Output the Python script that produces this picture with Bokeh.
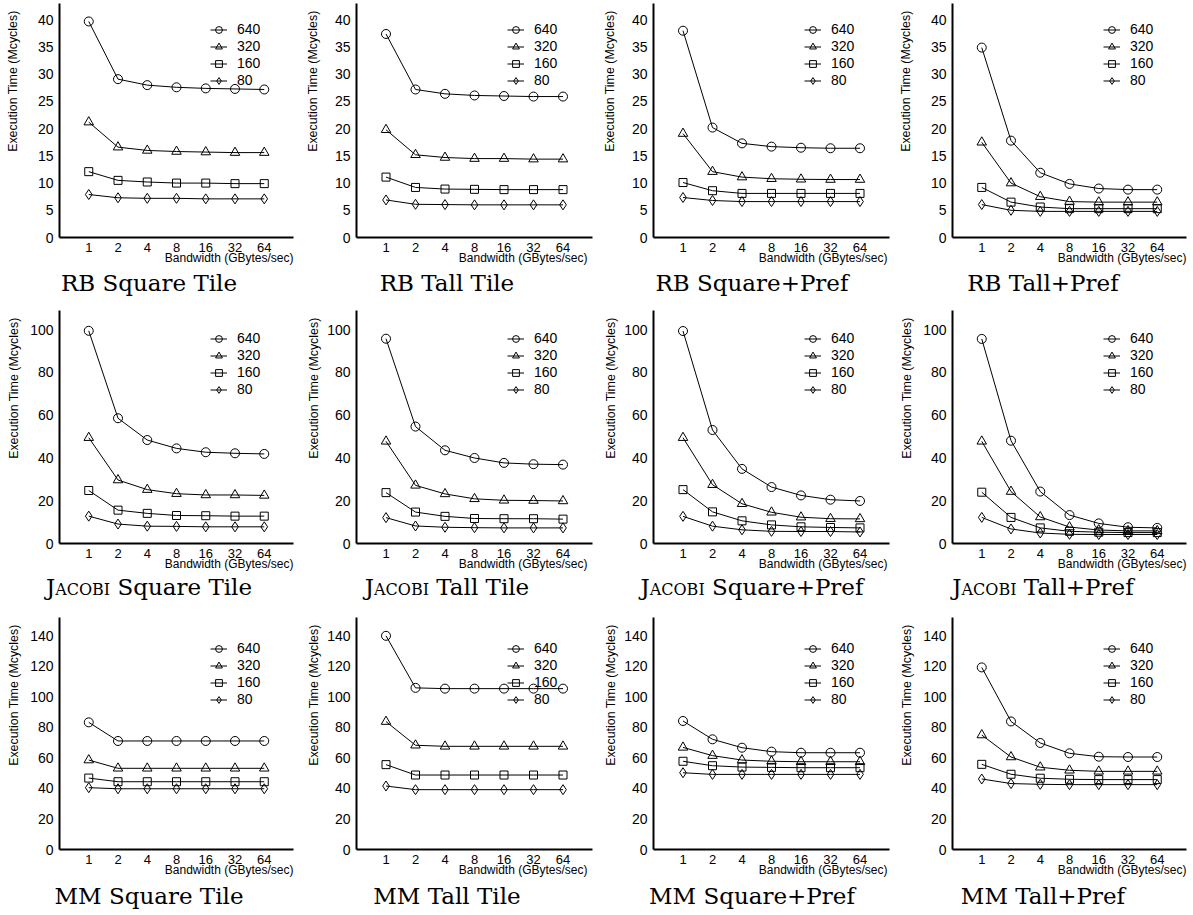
from bokeh.plotting import figure
from bokeh.models import FactorRange, Range1d, FixedTicker, Legend, LegendItem, Div, Title
from bokeh.layouts import column, row
from bokeh.embed import file_html
from bokeh.resources import INLINE

# ---------------- data ----------------
BANDWIDTH = ["1", "2", "4", "8", "16", "32", "64"]
TILE_SIZES = ["640", "320", "160", "80"]

RB_TICKS = [0, 5, 10, 15, 20, 25, 30, 35, 40]
JACOBI_TICKS = [0, 20, 40, 60, 80, 100]
MM_TICKS = [0, 20, 40, 60, 80, 100, 120, 140]

RB_SQUARE_TILE = {
    "640": [39.7, 29.1, 28.0, 27.6, 27.4, 27.3, 27.2],
    "320": [21.2, 16.6, 16.0, 15.8, 15.7, 15.6, 15.6],
    "160": [12.1, 10.5, 10.2, 10.0, 10.0, 9.9, 9.9],
    "80": [7.9, 7.3, 7.2, 7.2, 7.1, 7.1, 7.1],
}
RB_TALL_TILE = {
    "640": [37.4, 27.2, 26.4, 26.1, 26.0, 25.9, 25.9],
    "320": [19.8, 15.2, 14.7, 14.5, 14.5, 14.4, 14.4],
    "160": [11.1, 9.2, 8.9, 8.85, 8.8, 8.8, 8.8],
    "80": [6.9, 6.1, 6.05, 6.0, 6.0, 6.0, 6.0],
}
RB_SQUARE_PREF = {
    "640": [38.0, 20.2, 17.3, 16.7, 16.5, 16.4, 16.4],
    "320": [19.1, 12.1, 11.1, 10.8, 10.7, 10.65, 10.65],
    "160": [10.1, 8.6, 8.1, 8.1, 8.1, 8.1, 8.1],
    "80": [7.35, 6.8, 6.6, 6.6, 6.6, 6.6, 6.6],
}
RB_TALL_PREF = {
    "640": [34.9, 17.8, 11.9, 9.85, 9.0, 8.8, 8.8],
    "320": [17.5, 10.0, 7.5, 6.6, 6.5, 6.5, 6.5],
    "160": [9.2, 6.5, 5.6, 5.3, 5.3, 5.3, 5.3],
    "80": [6.05, 5.0, 4.8, 4.8, 4.8, 4.8, 4.8],
}
JACOBI_SQUARE_TILE = {
    "640": [99.5, 58.6, 48.4, 44.5, 42.7, 42.2, 41.9],
    "320": [49.5, 29.7, 25.2, 23.3, 22.7, 22.7, 22.5],
    "160": [24.8, 15.6, 14.1, 13.1, 13.0, 12.8, 12.8],
    "80": [12.8, 9.1, 8.1, 8.0, 7.8, 7.8, 7.8],
}
JACOBI_TALL_TILE = {
    "640": [95.8, 54.7, 43.6, 40.0, 37.7, 37.1, 36.9],
    "320": [47.8, 27.2, 23.2, 20.9, 20.2, 20.1, 19.9],
    "160": [23.8, 14.7, 12.7, 11.7, 11.6, 11.6, 11.4],
    "80": [12.1, 8.2, 7.6, 7.4, 7.3, 7.3, 7.3],
}
JACOBI_SQUARE_PREF = {
    "640": [99.4, 53.1, 34.9, 26.4, 22.5, 20.5, 19.9],
    "320": [49.5, 27.5, 18.6, 14.6, 12.3, 11.6, 11.5],
    "160": [25.2, 14.8, 10.6, 8.7, 7.8, 7.5, 7.3],
    "80": [12.7, 8.1, 6.4, 5.7, 5.6, 5.6, 5.4],
}
JACOBI_TALL_PREF = {
    "640": [95.7, 48.1, 24.3, 13.3, 9.4, 7.6, 7.3],
    "320": [47.8, 24.3, 12.4, 7.7, 6.3, 5.9, 5.9],
    "160": [24.0, 12.2, 7.3, 5.7, 5.3, 5.1, 5.1],
    "80": [12.2, 6.8, 4.9, 4.3, 4.2, 4.2, 4.2],
}
MM_SQUARE_TILE = {
    "640": [83.3, 71.1, 71.1, 71.1, 71.1, 71.1, 71.1],
    "320": [58.6, 53.2, 53.2, 53.2, 53.2, 53.2, 53.2],
    "160": [46.8, 44.4, 44.4, 44.4, 44.4, 44.4, 44.4],
    "80": [40.5, 39.8, 39.8, 39.8, 39.8, 39.8, 39.8],
}
MM_TALL_TILE = {
    "640": [140.0, 105.9, 105.4, 105.4, 105.4, 105.4, 105.4],
    "320": [83.8, 68.3, 67.6, 67.6, 67.6, 67.6, 67.6],
    "160": [55.6, 48.8, 48.8, 48.8, 48.8, 48.8, 48.8],
    "80": [41.6, 39.2, 39.2, 39.2, 39.2, 39.2, 39.2],
}
MM_SQUARE_PREF = {
    "640": [84.2, 72.2, 66.7, 64.1, 63.4, 63.4, 63.4],
    "320": [66.9, 61.5, 58.6, 57.8, 57.5, 57.5, 57.5],
    "160": [57.8, 54.9, 54.0, 53.8, 53.6, 53.6, 53.6],
    "80": [50.3, 49.2, 49.2, 49.2, 49.2, 49.2, 49.2],
}
MM_TALL_PREF = {
    "640": [119.3, 83.9, 69.8, 63.0, 60.8, 60.6, 60.6],
    "320": [75.0, 60.6, 53.9, 51.9, 51.2, 51.2, 51.2],
    "160": [55.8, 49.3, 46.7, 46.0, 45.8, 45.8, 45.8],
    "80": [46.2, 43.2, 42.7, 42.5, 42.5, 42.5, 42.5],
}

BENCH_HTML = {"RB": "RB", "JACOBI": '<span style="font-variant: small-caps;">Jacobi</span>', "MM": "MM"}
ROWS = [
    ("RB", 43, RB_TICKS, [RB_SQUARE_TILE, RB_TALL_TILE, RB_SQUARE_PREF, RB_TALL_PREF]),
    ("JACOBI", 109, JACOBI_TICKS, [JACOBI_SQUARE_TILE, JACOBI_TALL_TILE, JACOBI_SQUARE_PREF, JACOBI_TALL_PREF]),
    ("MM", 152, MM_TICKS, [MM_SQUARE_TILE, MM_TALL_TILE, MM_SQUARE_PREF, MM_TALL_PREF]),
]
VARIANTS = ["Square Tile", "Tall Tile", "Square+Pref", "Tall+Pref"]
X_LABEL = "Bandwidth (GBytes/sec)"
Y_LABEL = "Execution Time (Mcycles)"

# ---------------- styling / layout ----------------
MARKERS = {"640": ("circle", 9), "320": ("triangle", 9.5), "160": ("square", 8), "80": ("diamond", 10)}

COL_W = [298, 298, 298, 298]
COL_L = [59, 58, 57, 58]
COL_R = [5, 4, 5, 6]
TITLE_CX = [149, 149, 156, 149]       # title centre from panel left
XLAB_OFF = [0, 5, 2, 0]               # x-label right end, px in from frame right
# spacer (blank y-axis label) standoff, puts the y label at the reference distance
YSPACER = {"RB": [1, -2, -2, 1], "JACOBI": [-7, -10, -10, -7], "MM": [-7, -10, -10, -7]}

ROW_H = [300, 307, 307]
ROW_T = [3, 10, 10]
ROW_FH = [234, 233, 232]
FIG_B = 30                            # space under frame inside the figure
TITLE_C = [15, 13, 16]                # title centre from top of title box
LEG_TOP = [17.5, 19.5, 22.5]

SANS = "Liberation Sans"
SERIF = "DejaVu Serif"

grid_rows = []
for ri, (bench, ymax, yticks, panels) in enumerate(ROWS):
    cells = []
    for ci, data in enumerate(panels):
        fh = ROW_FH[ri]
        fig_h = ROW_T[ri] + fh + FIG_B
        p = figure(
            width=COL_W[ci], height=fig_h,
            x_range=FactorRange(factors=BANDWIDTH, range_padding=0.5, range_padding_units="absolute"),
            y_range=Range1d(0, ymax),
            output_backend="svg", toolbar_location=None,
            min_border_left=COL_L[ci], min_border_right=COL_R[ci],
            min_border_top=ROW_T[ri], min_border_bottom=FIG_B,
            outline_line_color=None, background_fill_color="white", border_fill_color="white",
        )
        p.xgrid.visible = False
        p.ygrid.visible = False
        for ax in (p.xaxis[0], p.yaxis[0]):
            ax.axis_line_width = 2
            ax.axis_line_color = "black"
            ax.major_tick_line_color = None
            ax.minor_tick_line_color = None
            ax.major_tick_out = 0
            ax.major_tick_in = 0
            ax.minor_tick_out = 0
            ax.minor_tick_in = 0
            ax.major_label_text_font = SANS
            ax.major_label_text_color = "black"
        xa, ya = p.xaxis[0], p.yaxis[0]
        xa.major_label_text_font_size = "13px"
        ya.major_label_text_font_size = "14px"
        xa.major_label_standoff = 5
        ya.major_label_standoff = 6
        ya.ticker = FixedTicker(ticks=yticks)
        # blank label only reserves room between tick labels and the y label
        ya.axis_label = " "
        ya.axis_label_text_font_size = "8px"
        ya.axis_label_standoff = YSPACER[bench][ci]

        p.add_layout(Title(
            text=X_LABEL, align="right", offset=XLAB_OFF[ci], vertical_align="top", standoff=-7,
            text_font=SANS, text_font_size="12px", text_font_style="normal", text_color="black",
        ), "below")
        p.add_layout(Title(
            text=Y_LABEL, align="right", offset=7, vertical_align="top", standoff=0,
            text_font=SANS, text_font_size="12.4px", text_font_style="normal", text_color="black",
        ), "left")

        items = []
        for size_key in TILE_SIZES:
            mk, ms = MARKERS[size_key]
            lr = p.line(x=BANDWIDTH, y=data[size_key], line_color="black", line_width=1)
            sr = p.scatter(x=BANDWIDTH, y=data[size_key], marker=mk, size=ms,
                           line_color="black", line_width=1, fill_color=None)
            items.append(LegendItem(label=size_key, renderers=[lr, sr]))

        legend = Legend(
            items=items, location=(151, fh - LEG_TOP[ri] - 68),
            border_line_color=None, background_fill_alpha=0, padding=0, margin=0, spacing=0,
            glyph_width=17, glyph_height=17, label_height=17, label_standoff=10,
            label_text_font=SANS, label_text_font_size="14px", label_text_color="black",
        )
        p.add_layout(legend)

        div_h = ROW_H[ri] - fig_h
        title_html = (
            f'<div style="width:{2 * TITLE_CX[ci]}px; text-align:center; white-space:nowrap; '
            f'font-family:\'{SERIF}\'; font-size:23px; line-height:22px; '
            f'padding-top:{TITLE_C[ri] - 10}px; color:black;">'
            f'{BENCH_HTML[bench]} {VARIANTS[ci]}</div>'
        )
        div = Div(text=title_html, width=COL_W[ci], height=div_h, margin=0)
        cells.append(column(p, div, spacing=0))
    grid_rows.append(row(*cells, spacing=0))

layout = column(*grid_rows, spacing=0)

open("out.html", "w").write(file_html(layout, INLINE))
